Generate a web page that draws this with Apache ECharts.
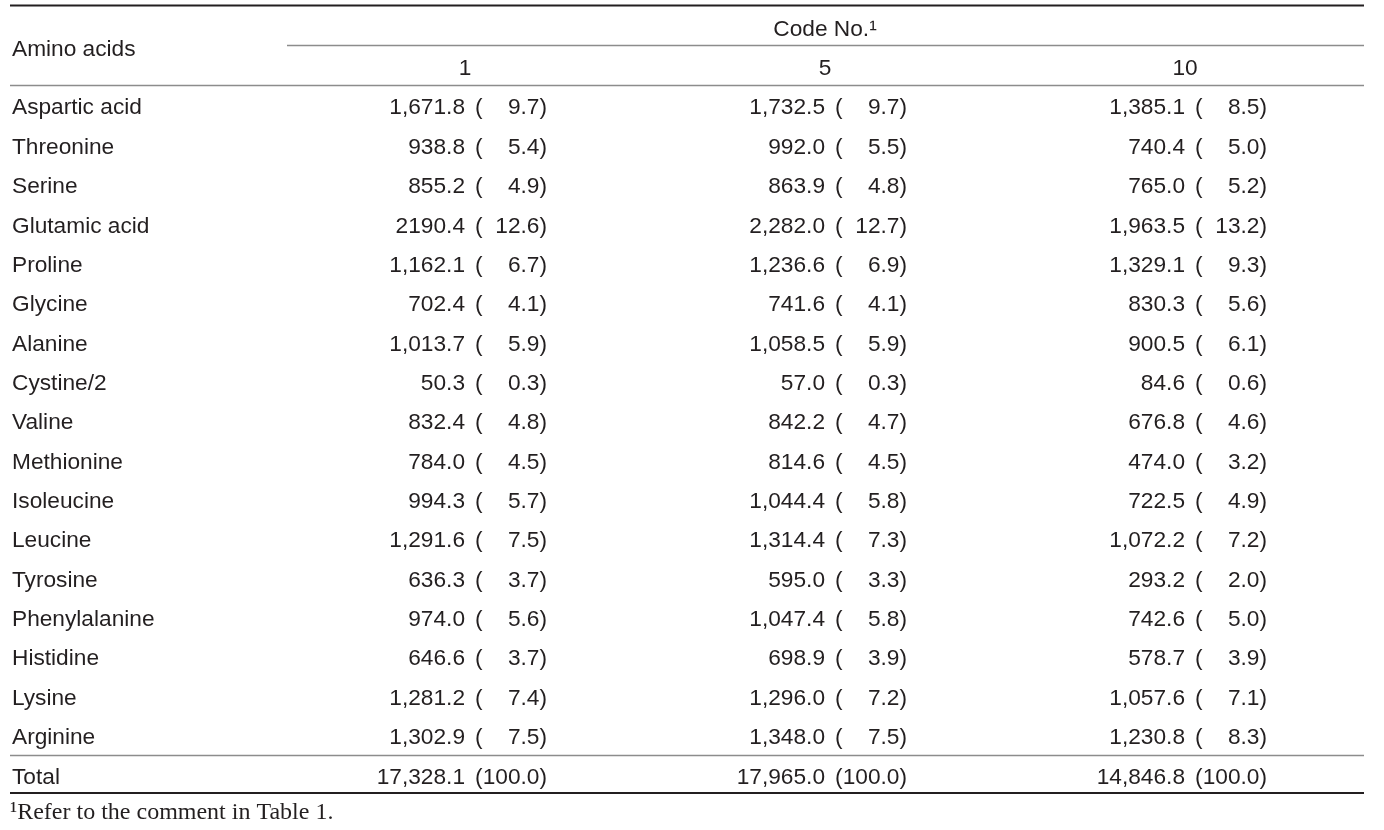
<!DOCTYPE html>
<html>
<head>
<meta charset="utf-8">
<script src="https://cdn.jsdelivr.net/npm/echarts@6/dist/echarts.min.js"></script>
<style>html,body{margin:0;padding:0;background:#fff}#c{width:1384px;height:830px}</style>
</head>
<body>
<div id="c"></div>
<script>
const rowNames = ['Aspartic acid','Threonine','Serine','Glutamic acid','Proline','Glycine','Alanine','Cystine/2','Valine','Methionine','Isoleucine','Leucine','Tyrosine','Phenylalanine','Histidine','Lysine','Arginine','Total'];
const codeLabels = ['1','5','10'];
const code1Vals = ['1,671.8','938.8','855.2','2190.4','1,162.1','702.4','1,013.7','50.3','832.4','784.0','994.3','1,291.6','636.3','974.0','646.6','1,281.2','1,302.9','17,328.1'];
const code1Pct  = ['9.7','5.4','4.9','12.6','6.7','4.1','5.9','0.3','4.8','4.5','5.7','7.5','3.7','5.6','3.7','7.4','7.5','100.0'];
const code5Vals = ['1,732.5','992.0','863.9','2,282.0','1,236.6','741.6','1,058.5','57.0','842.2','814.6','1,044.4','1,314.4','595.0','1,047.4','698.9','1,296.0','1,348.0','17,965.0'];
const code5Pct  = ['9.7','5.5','4.8','12.7','6.9','4.1','5.9','0.3','4.7','4.5','5.8','7.3','3.3','5.8','3.9','7.2','7.5','100.0'];
const code10Vals = ['1,385.1','740.4','765.0','1,963.5','1,329.1','830.3','900.5','84.6','676.8','474.0','722.5','1,072.2','293.2','742.6','578.7','1,057.6','1,230.8','14,846.8'];
const code10Pct  = ['8.5','5.0','5.2','13.2','9.3','5.6','6.1','0.6','4.6','3.2','4.9','7.2','2.0','5.0','3.9','7.1','8.3','100.0'];
const headerTitle = 'Code No.¹';
const rowHeader = 'Amino acids';
const footnote = '¹Refer to the comment in Table 1.';

const TXT = '#231f20';
const FONT = 'Liberation Sans, Arial, sans-serif';
const FS = 22.7;

const allVals = [code1Vals, code5Vals, code10Vals];
const allPct = [code1Pct, code5Pct, code10Pct];
const valData = [], parenData = [], pctData = [];
allVals.forEach((col, ci) => {
  col.forEach((v, ri) => {
    valData.push([ci, ri, v]);
    parenData.push([ci, ri, '(']);
    pctData.push([ci, ri, allPct[ci][ri] + ')']);
  });
});

function cellSeries(name, data, align, offsetX) {
  return {
    type: 'scatter', name, data, symbolSize: 1,
    itemStyle: { color: '#ffffff', opacity: 1 },
    silent: true,
    emphasis: { disabled: true },
    label: {
      show: true, position: 'inside', align, verticalAlign: 'middle', opacity: 1,
      offset: [offsetX, 0], color: TXT, fontSize: FS, fontFamily: FONT,
      textBorderWidth: 0,
      formatter: p => p.value[2]
    }
  };
}

const chart = echarts.init(document.getElementById('c'), null, { renderer: 'canvas' });
chart.setOption({
  animation: false,
  backgroundColor: '#fff',
  grid: { left: 285, right: 19, top: 88.5, height: 708.5 },
  xAxis: {
    type: 'category', data: codeLabels, position: 'top',
    axisLine: { show: false }, axisTick: { show: false }, splitLine: { show: false },
    axisLabel: { margin: 20, verticalAlign: 'middle', fontSize: FS, color: TXT, fontFamily: FONT },
    name: headerTitle, nameLocation: 'middle', nameGap: 59,
    nameTextStyle: { fontSize: FS, color: TXT, fontFamily: FONT, verticalAlign: 'middle' }
  },
  yAxis: {
    type: 'category', data: rowNames, inverse: true,
    axisLine: { show: false }, axisTick: { show: false }, splitLine: { show: false },
    axisLabel: { align: 'left', margin: 273, fontSize: FS, color: TXT, fontFamily: FONT, verticalAlign: 'middle' }
  },
  series: [
    cellSeries('value', valData, 'right', 0),
    cellSeries('paren', parenData, 'left', 10),
    cellSeries('pct', pctData, 'right', 82)
  ],
  graphic: [
    { type: 'line', shape: { x1: 10, y1: 5.5, x2: 1364, y2: 5.5 }, style: { stroke: '#231f20', lineWidth: 2.2 }, silent: true },
    { type: 'line', shape: { x1: 287, y1: 45.5, x2: 1364, y2: 45.5 }, style: { stroke: '#8c8c8c', lineWidth: 1.4 }, silent: true },
    { type: 'line', shape: { x1: 10, y1: 85.5, x2: 1364, y2: 85.5 }, style: { stroke: '#8c8c8c', lineWidth: 1.4 }, silent: true },
    { type: 'line', shape: { x1: 10, y1: 755.5, x2: 1364, y2: 755.5 }, style: { stroke: '#8c8c8c', lineWidth: 1.4 }, silent: true },
    { type: 'line', shape: { x1: 10, y1: 793, x2: 1364, y2: 793 }, style: { stroke: '#231f20', lineWidth: 2.2 }, silent: true },
    { type: 'text', x: 12, y: 49.5, silent: true,
      style: { text: rowHeader, fill: TXT, fontSize: FS, fontFamily: FONT, verticalAlign: 'middle', align: 'left' } },
    { type: 'text', x: 10, y: 813, silent: true,
      style: { text: footnote, fill: TXT, fontSize: 24, fontFamily: 'Liberation Serif, Times New Roman, serif', verticalAlign: 'middle', align: 'left' } }
  ]
});
</script>
</body>
</html>
